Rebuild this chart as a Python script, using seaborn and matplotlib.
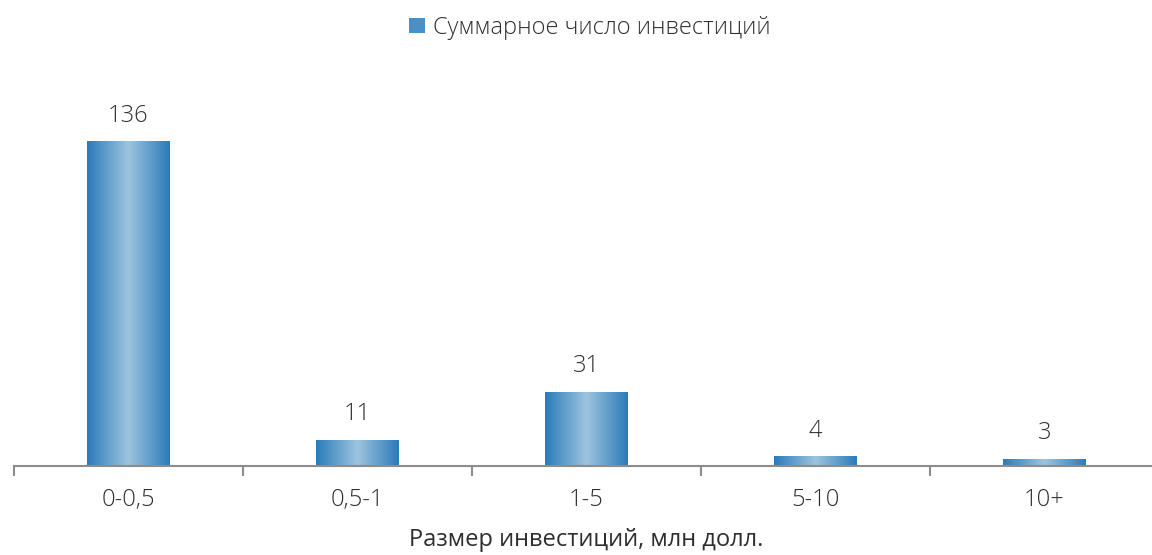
import numpy as np
import pandas as pd
import matplotlib
matplotlib.use("Agg")
import matplotlib.pyplot as plt
import seaborn as sns
from matplotlib.colors import LinearSegmentedColormap
from matplotlib.patches import Patch

categories = ['0-0,5', '0,5-1', '1-5', '5-10', '10+']
counts = [136, 11, 31, 4, 3]
series_name = 'Суммарное число инвестиций'
x_title = 'Размер инвестиций, млн долл.'

sns.set_style('white')
plt.rcParams['font.family'] = ['Open Sans', 'DejaVu Sans']
plt.rcParams['font.weight'] = 'light'
text_color = '#2e2e2e'

df = pd.DataFrame({'cat': categories, 'n': counts})

fig = plt.figure(figsize=(11.52, 5.55), dpi=100)
ax = fig.add_axes([14 / 1152, 1 - 466 / 555, 1145 / 1152, 358 / 555])

sns.barplot(data=df, x='cat', y='n', color='#3a86c2', width=0.36, ax=ax,
            label=series_name, legend=False)

# горизонтальный градиент в каждом столбце
cmap = LinearSegmentedColormap.from_list('bar', ['#2b7bb9', '#9dc4df', '#2b7bb9'])
grad = np.linspace(0, 1, 256).reshape(1, -1)
for p in ax.patches:
    x0, y0 = p.get_x(), p.get_y()
    w, h = p.get_width(), p.get_height()
    im = ax.imshow(grad, cmap=cmap, aspect='auto', extent=[x0, x0 + w, y0, y0 + h],
                   zorder=p.get_zorder() + 0.1)
    im.set_clip_path(p)

for i, v in enumerate(counts):
    ax.annotate(str(v), (i, v), xytext=(0, 10), textcoords='offset points',
                ha='center', va='bottom', fontsize=17, color=text_color)

ax.set_xlim(-0.5, len(categories) - 0.5)
ax.set_ylim(0, 150)
ax.set_yticks([])
ax.set_ylabel('')
for s in ['top', 'right', 'left']:
    ax.spines[s].set_visible(False)
ax.spines['bottom'].set_color('#8c8c8c')
ax.spines['bottom'].set_linewidth(1.5)

ax.set_xticks(range(len(categories)))
ax.set_xticklabels(categories, fontsize=17, color=text_color)
ax.tick_params(axis='x', which='major', bottom=True, length=0, pad=16)
ax.set_xticks(np.arange(-0.5, len(categories)), minor=True)
ax.tick_params(axis='x', which='minor', bottom=True, length=7, width=1.5,
               color='#8c8c8c', direction='out')
ax.set_xlabel(x_title, fontsize=17, color=text_color, labelpad=11)

handle = Patch(facecolor='#4a90c8', edgecolor='none')
fig.legend([handle], [series_name], loc='center', bbox_to_anchor=(0.512, 0.95),
           frameon=False, fontsize=17, handlelength=0.65, handleheight=0.65,
           handletextpad=0.35, labelcolor=text_color)

fig.savefig('out.png', dpi=100)
